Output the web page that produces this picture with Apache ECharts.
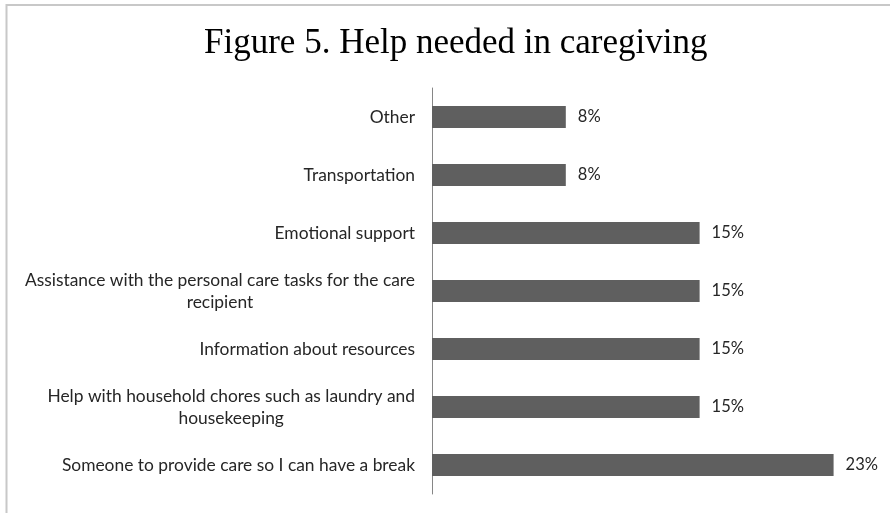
<!DOCTYPE html>
<html>
<head>
<meta charset="utf-8">
<script src="https://cdn.jsdelivr.net/npm/echarts@6/dist/echarts.min.js"></script>
<style>
  html, body { margin: 0; padding: 0; background: #fff; }
  #chart { width: 890px; height: 513px; }
</style>
</head>
<body>
<div id="chart"></div>
<script>
// Categories, bottom to top as the category axis lays them out
const categories = [
  'Someone to provide care so I can have a break',
  'Help with household chores such as laundry and\nhousekeeping',
  'Information about resources',
  'Assistance with the personal care tasks for the care\nrecipient',
  'Emotional support',
  'Transportation',
  'Other'
];
// Share of respondents (%), shown rounded to whole percent
const shares = [23.08, 15.38, 15.38, 15.38, 15.38, 7.69, 7.69];

const chart = echarts.init(document.getElementById('chart'));
chart.setOption({
  animation: false,
  title: {
    text: 'Figure 5. Help needed in caregiving',
    left: 199,
    top: 21,
    textStyle: {
      fontFamily: 'Liberation Serif',
      fontWeight: 'normal',
      fontSize: 35,
      color: '#000'
    }
  },
  graphic: [{
    type: 'rect',
    shape: { x: 6.5, y: 5, width: 900, height: 600 },
    style: { fill: 'none', stroke: '#c8c8c8', lineWidth: 2 },
    silent: true
  }],
  grid: { left: 432, right: 23, top: 88, bottom: 19 },
  xAxis: {
    type: 'value',
    min: 0,
    max: 25,
    show: false
  },
  yAxis: {
    type: 'category',
    data: categories,
    axisLine: { lineStyle: { color: '#868686', width: 1 } },
    axisTick: { show: false },
    axisLabel: {
      margin: 17,
      align: 'right',
      fontFamily: 'Lato',
      fontSize: 17.4,
      color: '#262626',
      lineHeight: 22,
      // each wrapped line centred within the right-aligned block
      formatter: v => v.split('\n').map(s => '{c|' + s + '}').join('\n'),
      rich: {
        c: { align: 'center', fontFamily: 'Lato', fontSize: 17.4, color: '#262626', lineHeight: 22 }
      }
    }
  },
  series: [{
    type: 'bar',
    data: shares,
    barWidth: '38%',
    itemStyle: { color: '#5f5f5f' },
    label: {
      show: true,
      position: 'right',
      distance: 12,
      fontFamily: 'Lato',
      fontSize: 16.5,
      color: '#262626',
      formatter: p => Math.round(p.value) + '%'
    }
  }]
});
</script>
</body>
</html>
